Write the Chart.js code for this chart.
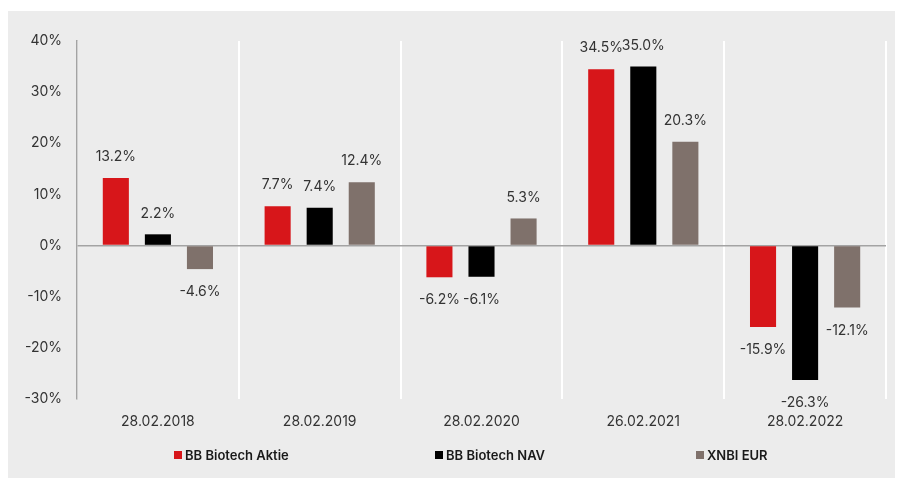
<!DOCTYPE html>
<html>
<head>
<meta charset="utf-8">
<script src="https://cdn.jsdelivr.net/npm/chart.js@4"></script>
<style>
  body { margin: 0; background: #fff; font-family: Inter, sans-serif; }
  #box { position: absolute; left: 8px; top: 11px; width: 887px; height: 467px; background: #ececec; }
  #box canvas { position: absolute; left: 0; top: 0; }
  #legend { position: absolute; left: 166px; top: 436px; display: flex; }
  .item { width: 261px; display: flex; align-items: center; font-size: 13px; font-weight: 600; color: #1a1a1a; }
  .sw { width: 8px; height: 8px; margin-right: 3px; }
</style>
</head>
<body>
<div id="box">
  <canvas id="chart" width="887" height="467"></canvas>
  <div id="legend"></div>
</div>
<script>
const categories = ["28.02.2018", "28.02.2019", "28.02.2020", "26.02.2021", "28.02.2022"];
const seriesNames = ["BB Biotech Aktie", "BB Biotech NAV", "XNBI EUR"];
const aktie = [13.2, 7.7, -6.2, 34.5, -15.9];
const nav = [2.2, 7.4, -6.1, 35.0, -26.3];
const xnbi = [-4.6, 12.4, 5.3, 20.3, -12.1];
const yTicks = [-30, -20, -10, 0, 10, 20, 30, 40];

const colors = ["#d7161a", "#000000", "#7f716b"];

// value labels above / below each bar
const valueLabels = {
  id: "valueLabels",
  afterDatasetsDraw(chart) {
    const ctx = chart.ctx;
    ctx.save();
    ctx.font = "14px Inter, sans-serif";
    ctx.fillStyle = "#333333";
    ctx.textAlign = "center";
    ctx.textBaseline = "middle";
    chart.data.datasets.forEach((ds, i) => {
      chart.getDatasetMeta(i).data.forEach((bar, j) => {
        const v = ds.data[j];
        const y = v >= 0 ? bar.y - 21 : bar.y + 23;
        ctx.fillText(v.toFixed(1) + "%", bar.x, y);
      });
    });
    ctx.restore();
  }
};

const ctx = document.getElementById("chart").getContext("2d");
const chart = new Chart(ctx, {
  type: "bar",
  data: {
    labels: categories,
    datasets: [aktie, nav, xnbi].map((d, i) => ({
      label: seriesNames[i],
      data: d,
      backgroundColor: colors[i],
      borderWidth: 0,
      barPercentage: 0.62,
      categoryPercentage: 0.78,
    })),
  },
  options: {
    responsive: false,
    animation: false,
    layout: { padding: { top: 30, right: 9, left: 0, bottom: 0 } },
    scales: {
      x: {
        border: { display: false },
        grid: { color: "#ffffff", lineWidth: 2, drawTicks: false },
        ticks: { color: "#333333", font: { family: "Inter", size: 14 }, padding: 14 },
        afterFit(scale) { scale.height = 79; },
      },
      y: {
        min: -30,
        max: 40,
        afterBuildTicks(scale) { scale.ticks = yTicks.map(v => ({ value: v })); },
        border: { display: true, color: "#a3a3a3", width: 1.5 },
        grid: {
          drawTicks: false,
          color: c => (c.tick && c.tick.value === 0 ? "#a3a3a3" : "rgba(0,0,0,0)"),
          lineWidth: 1.5,
        },
        ticks: {
          color: "#333333",
          font: { family: "Inter", size: 14 },
          padding: 15,
          callback: v => v + "%",
        },
        afterFit(scale) { scale.width = 69; },
      },
    },
    plugins: {
      legend: { display: false },
      tooltip: { enabled: false },
    },
  },
  plugins: [valueLabels],
});

// legend as html below the plot
const legend = document.getElementById("legend");
seriesNames.forEach((name, i) => {
  const item = document.createElement("div");
  item.className = "item";
  item.innerHTML = '<span class="sw" style="background:' + colors[i] + '"></span>' + name;
  legend.appendChild(item);
});
</script>
</body>
</html>
